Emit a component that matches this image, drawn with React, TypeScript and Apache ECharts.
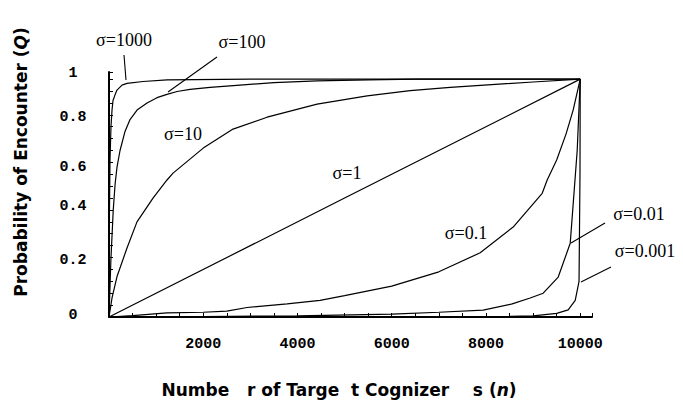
import React, { useEffect, useRef } from "react";
import * as echarts from "echarts";

// Number of target cognizers (n) and probability of encounter (Q) per sigma curve
const s1000N = [0, 10, 21, 42, 64, 85, 130, 170, 276, 382, 722, 1231, 3000, 10000];
const s1000Q = [0, 0.45, 0.66, 0.8, 0.87, 0.91, 0.935, 0.954, 0.975, 0.982, 0.99, 0.997, 1, 1];

const s100N = [0, 40, 90, 130, 170, 234, 340, 446, 595, 807, 1019, 1231, 1444, 1720, 2144, 2781, 3500, 4416, 5500, 6539, 8000, 10000];
const s100Q = [0, 0.24, 0.45, 0.56, 0.63, 0.7, 0.78, 0.83, 0.87, 0.9, 0.922, 0.936, 0.948, 0.957, 0.965, 0.975, 0.985, 0.993, 0.997, 1, 1, 1];

const s10N = [0, 64, 170, 382, 594, 934, 1231, 1359, 2000, 2632, 3355, 4416, 5478, 6391, 7240, 8200, 9000, 10000];
const s10Q = [0, 0.08, 0.17, 0.29, 0.4, 0.5, 0.576, 0.605, 0.71, 0.79, 0.84, 0.895, 0.93, 0.952, 0.965, 0.978, 0.988, 1];

const s1N = [0, 5000, 10000];
const s1Q = [0, 0.5, 1];

const s01N = [0, 500, 1231, 2000, 2500, 2930, 3780, 4480, 5000, 6000, 7000, 7877, 8577, 9193, 9299, 9500, 9700, 9850, 10000];
const s01Q = [0, 0.006, 0.017, 0.02, 0.025, 0.04, 0.055, 0.07, 0.09, 0.13, 0.19, 0.27, 0.378, 0.52, 0.576, 0.66, 0.77, 0.87, 1];

const s001N = [0, 2000, 4000, 6000, 7000, 7940, 8556, 8938, 9214, 9533, 9788, 9936, 10000];
const s001Q = [0, 0.002, 0.005, 0.012, 0.02, 0.029, 0.055, 0.08, 0.1, 0.168, 0.31, 0.7, 1];

const s0001N = [0, 5000, 8500, 9000, 9500, 9745, 9894, 9975, 9995, 10000];
const s0001Q = [0, 0, 0.003, 0.005, 0.015, 0.03, 0.07, 0.15, 0.6, 1];

const curves = [
  { name: "σ=1000", n: s1000N, q: s1000Q },
  { name: "σ=100", n: s100N, q: s100Q },
  { name: "σ=10", n: s10N, q: s10Q },
  { name: "σ=1", n: s1N, q: s1Q },
  { name: "σ=0.1", n: s01N, q: s01Q },
  { name: "σ=0.01", n: s001N, q: s001Q },
  { name: "σ=0.001", n: s0001N, q: s0001Q },
];

const xTicks = [2000, 4000, 6000, 8000, 10000];
const yTicks = [0, 0.2, 0.4, 0.6, 0.8, 1];
// vertical lift (px) of each y tick label above its tick, as in the reference
const yLabelLift = [2, 9, 15, 7, 9, 6];

// annotation label placements (pixels)
const curveLabels = [
  { text: "σ=1000", x: 124, y: 40 },
  { text: "σ=100", x: 242, y: 42 },
  { text: "σ=10", x: 183, y: 134 },
  { text: "σ=1", x: 347, y: 173 },
  { text: "σ=0.1", x: 466, y: 233 },
  { text: "σ=0.01", x: 639, y: 214 },
  { text: "σ=0.001", x: 645, y: 251 },
];
const leaders = [
  [124, 55, 126, 80],
  [217, 57, 168, 92],
  [605, 223, 571, 243],
  [611, 267, 581, 282],
];

export default function App() {
  const ref = useRef<HTMLDivElement>(null);
  useEffect(() => {
    document.body.style.margin = "0";
    const chart = echarts.init(ref.current!, null, { renderer: "svg" });
    const tickFont = {
      fontFamily: "'Liberation Mono', 'DejaVu Sans Mono', monospace",
      fontWeight: "bold" as const,
      fontSize: 15,
      color: "#000",
    };
    const yRich: Record<string, any> = {};
    yLabelLift.forEach((lift, i) => {
      yRich["l" + i] = { ...tickFont, lineHeight: 16, padding: [0, 0, 2 * lift, 0] };
    });
    const graphics: any[] = [];
    curveLabels.forEach((l) => {
      graphics.push({
        type: "text",
        x: l.x,
        y: l.y,
        style: {
          text: l.text,
          fontFamily: "'Liberation Serif', 'Times New Roman', serif",
          fontSize: 18,
          fill: "#000",
          align: "center",
          verticalAlign: "middle",
        },
      });
    });
    leaders.forEach((s) => {
      graphics.push({
        type: "line",
        shape: { x1: s[0], y1: s[1], x2: s[2], y2: s[3] },
        style: { stroke: "#000", lineWidth: 1.1 },
      });
    });
    graphics.push({
      type: "text",
      x: 21,
      y: 162,
      rotation: Math.PI / 2,
      style: {
        text: "Probability of Encounter ({i|Q})",
        fontFamily: "'DejaVu Sans', sans-serif",
        fontWeight: "bold",
        fontSize: 17,
        fill: "#000",
        align: "center",
        verticalAlign: "middle",
        rich: {
          i: {
            fontFamily: "'DejaVu Sans', sans-serif",
            fontWeight: "bold",
            fontStyle: "italic",
            fontSize: 17,
            fill: "#000",
          },
        },
      },
    });
    graphics.push({
      type: "text",
      x: 339,
      y: 390,
      style: {
        text: "Numbe\u00a0\u00a0\u00a0r of Targe\u00a0\u00a0t Cognizer\u00a0\u00a0\u00a0\u00a0s ({i|n})",
        fontFamily: "'DejaVu Sans', sans-serif",
        fontWeight: "bold",
        fontSize: 17,
        fill: "#000",
        align: "center",
        verticalAlign: "middle",
        rich: {
          i: {
            fontFamily: "'DejaVu Sans', sans-serif",
            fontWeight: "bold",
            fontStyle: "italic",
            fontSize: 17,
            fill: "#000",
          },
        },
      },
    });

    chart.setOption({
      animation: false,
      backgroundColor: "#fff",
      grid: { left: 109, top: 72, right: 91, bottom: 90 },
      xAxis: {
        type: "value",
        min: 0,
        max: 10250,
        interval: 2000,
        splitLine: { show: false },
        axisLine: { lineStyle: { color: "#000", width: 2 } },
        axisTick: { inside: true, length: 4, lineStyle: { color: "#000", width: 1 } },
        minorTick: { show: true, splitNumber: 4, length: 4, lineStyle: { color: "#000", width: 1 } },
        axisLabel: {
          ...tickFont,
          margin: 20,
          showMaxLabel: false,
          formatter: (v: number) => (xTicks.includes(v) ? String(v) : ""),
        },
      },
      yAxis: {
        type: "value",
        min: 0,
        max: 1.03,
        interval: 0.2,
        splitLine: { show: false },
        axisLine: { lineStyle: { color: "#000", width: 2 } },
        axisTick: { inside: true, length: 4, lineStyle: { color: "#000", width: 1 } },
        minorTick: { show: true, splitNumber: 4, length: 4, lineStyle: { color: "#000", width: 1 } },
        axisLabel: {
          ...tickFont,
          margin: 36,
          align: "center",
          verticalAlign: "middle",
          showMaxLabel: false,
          rich: yRich,
          formatter: (v: number) => {
            const i = yTicks.findIndex((k) => Math.abs(k - v) < 1e-6);
            return i < 0 ? "" : "{l" + i + "|" + String(yTicks[i]) + "}";
          },
        },
      },
      series: curves.map((c) => ({
        type: "line",
        name: c.name,
        data: c.n.map((n, i) => [n, c.q[i]]),
        showSymbol: false,
        symbol: "none",
        clip: false,
        lineStyle: { color: "#000", width: 1.2 },
      })),
      graphic: graphics,
    });
    return () => chart.dispose();
  }, []);
  return <div ref={ref} style={{ width: 683, height: 407 }} />;
}
